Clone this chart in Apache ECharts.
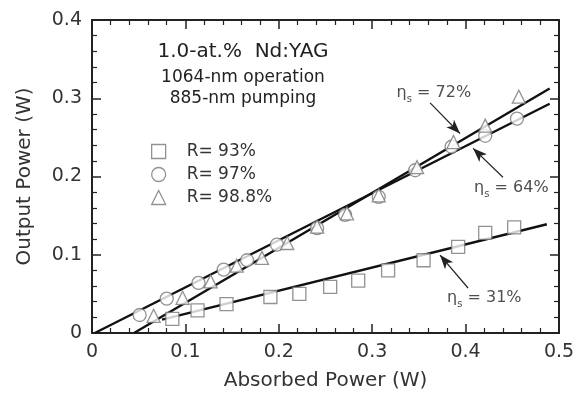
<!DOCTYPE html>
<html>
<head>
<meta charset="utf-8">
<script src="https://cdn.jsdelivr.net/npm/echarts@6/dist/echarts.min.js"></script>
<style>
  html, body { margin: 0; padding: 0; background: #fff; }
  #chart { width: 588px; height: 396px; }
</style>
</head>
<body>
<div id="chart"></div>
<script>
const FONT = 'DejaVu Sans'

// R = 93 % (squares)
const sqX = [0.086, 0.113, 0.144, 0.191, 0.222, 0.255, 0.285, 0.317, 0.355, 0.392, 0.421, 0.452]
const sqY = [0.018, 0.029, 0.037, 0.046, 0.050, 0.059, 0.067, 0.080, 0.093, 0.110, 0.128, 0.135]
// R = 97 % (circles)
const ciX = [0.051, 0.080, 0.114, 0.141, 0.166, 0.198, 0.241, 0.271, 0.307, 0.346, 0.385, 0.421, 0.455]
const ciY = [0.023, 0.044, 0.064, 0.081, 0.093, 0.113, 0.134, 0.151, 0.174, 0.208, 0.238, 0.252, 0.274]
// R = 98.8 % (triangles)
const trX = [0.066, 0.097, 0.127, 0.155, 0.182, 0.209, 0.241, 0.273, 0.307, 0.348, 0.387, 0.421, 0.457]
const trY = [0.022, 0.045, 0.066, 0.086, 0.096, 0.115, 0.136, 0.153, 0.176, 0.212, 0.244, 0.265, 0.302]

// linear fits (end points)
const fit72X = [0.045, 0.49]
const fit72Y = [0, 0.3125]
const fit64X = [0.003, 0.49]
const fit64Y = [0, 0.293]
const fit31X = [0.075, 0.487]
const fit31Y = [0.017, 0.139]

const legendNames = ['R= 93%', 'R= 97%', 'R= 98.8%']
const noteText = ['72%', '64%', '31%']
const noteAt = [[0.366, 0.3065], [0.449, 0.185], [0.42, 0.0447]]
const arrowFrom = [[0.362, 0.294], [0.440, 0.199], [0.4026, 0.0575]]
const arrowTo = [[0.394, 0.255], [0.408, 0.236], [0.3726, 0.0996]]

const pairs = (xs, ys) => xs.map((x, i) => [x, ys[i]])

const ink = '#222'
const textColor = '#333'
const markStyle = { color: '#fff', borderColor: '#777', borderWidth: 1.3 }

const axisCommon = {
  type: 'value',
  axisLine: { show: true, onZero: false, lineStyle: { color: ink, width: 2 } },
  axisTick: { show: true, inside: true, length: 9, lineStyle: { color: ink, width: 1.5 } },
  minorTick: { show: true, splitNumber: 5, length: 5, lineStyle: { color: ink, width: 1.2 } },
  splitLine: { show: false },
  minorSplitLine: { show: false },
}
const labelCommon = { color: textColor, fontSize: 19, fontFamily: FONT, margin: 10 }
const nameCommon = { color: textColor, fontSize: 20, fontFamily: FONT }

const fitLine = (xs, ys) => ({
  type: 'line',
  data: pairs(xs, ys),
  showSymbol: false,
  symbol: 'none',
  lineStyle: { color: '#111', width: 2.4 },
  z: 2,
  silent: true,
})

const scatter = (name, symbol, xs, ys) => ({
  name,
  type: 'scatter',
  symbol,
  symbolSize: 13,
  data: pairs(xs, ys),
  itemStyle: markStyle,
  z: 3,
})

const headText = (text, y, size) => ({
  type: 'text', x: 243, y,
  style: { text, fill: '#222', font: size + 'px "DejaVu Sans"', align: 'center', verticalAlign: 'middle' },
})

const chart = echarts.init(document.getElementById('chart'))
chart.setOption({
  animation: false,
  backgroundColor: '#fff',
  grid: { left: 92, right: 29, top: 20, bottom: 63 },
  xAxis: [
    Object.assign({}, axisCommon, {
      position: 'bottom', min: 0, max: 0.5, interval: 0.1,
      axisLabel: labelCommon,
      name: 'Absorbed Power (W)', nameLocation: 'middle', nameGap: 38,
      nameTextStyle: nameCommon,
    }),
    Object.assign({}, axisCommon, {
      position: 'top', min: 0, max: 0.5, interval: 0.1,
      axisLabel: { show: false },
    }),
  ],
  yAxis: [
    Object.assign({}, axisCommon, {
      position: 'left', min: 0, max: 0.4, interval: 0.1,
      axisLabel: labelCommon,
      name: 'Output Power (W)', nameLocation: 'middle', nameGap: 57,
      nameTextStyle: nameCommon,
    }),
    Object.assign({}, axisCommon, {
      position: 'right', min: 0, max: 0.4, interval: 0.1,
      axisLabel: { show: false },
    }),
  ],
  legend: {
    data: legendNames,
    orient: 'vertical',
    left: 146,
    top: 138,
    itemWidth: 14,
    itemHeight: 14,
    itemGap: 6,
    itemStyle: markStyle,
    selectedMode: false,
    textStyle: { color: textColor, fontSize: 17, fontFamily: FONT, padding: [0, 0, 0, 16] },
  },
  graphic: [
    headText('1.0-at.%  Nd:YAG', 52, 20),
    headText('1064-nm operation', 78, 17),
    headText('885-nm pumping', 99, 17),
  ],
  series: [
    fitLine(fit72X, fit72Y),
    fitLine(fit64X, fit64Y),
    Object.assign(fitLine(fit31X, fit31Y), {
      markLine: {
        silent: true,
        symbol: ['none', 'arrow'],
        symbolSize: [8, 14],
        label: { show: false },
        lineStyle: { color: ink, width: 1.2, type: 'solid' },
        data: arrowFrom.map((p, i) => [{ coord: p }, { coord: arrowTo[i] }]),
      },
    }),
    scatter(legendNames[0], 'rect', sqX, sqY),
    scatter(legendNames[1], 'circle', ciX, ciY),
    scatter(legendNames[2], 'triangle', trX, trY),
    {
      type: 'scatter',
      symbolSize: 0,
      silent: true,
      data: noteAt,
      label: {
        show: true,
        position: 'inside',
        color: '#222',
        formatter: (p) => '{a|η}{s|s}{a| = ' + noteText[p.dataIndex] + '}',
        rich: {
          a: { fontSize: 16, fontFamily: FONT, color: '#222' },
          s: { fontSize: 10, fontFamily: FONT, color: '#222', padding: [12, 0, 0, 0] },
        },
      },
      z: 4,
    },
  ],
})
</script>
</body>
</html>
